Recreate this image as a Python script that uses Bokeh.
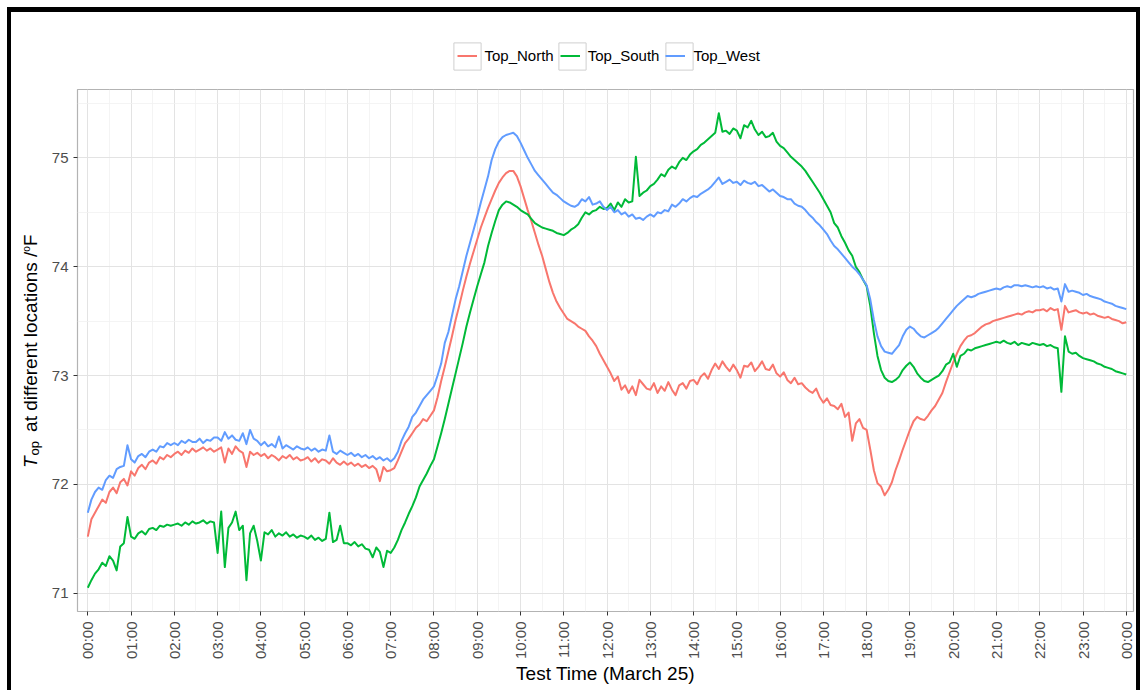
import numpy as np
from bokeh.plotting import figure
from bokeh.layouts import row, column
from bokeh.models import FixedTicker, Legend, LegendItem, Range1d, Div
from bokeh.embed import file_html
from bokeh.resources import INLINE

# Operative temperature (°F) logged every 5 minutes on March 25, one row per hour
top_north = [
    71.52, 71.68, 71.74, 71.80, 71.86, 71.83, 71.93, 71.97, 71.92, 72.02, 72.05, 71.99,
    72.12, 72.08, 72.15, 72.18, 72.14, 72.20, 72.22, 72.19, 72.25, 72.23, 72.27, 72.25,
    72.28, 72.30, 72.27, 72.31, 72.29, 72.33, 72.30, 72.32, 72.34, 72.31, 72.33, 72.30,
    72.32, 72.34, 72.20, 72.33, 72.28, 72.35, 72.31, 72.29, 72.16, 72.30, 72.27, 72.29,
    72.26, 72.28, 72.24, 72.27, 72.25, 72.22, 72.26, 72.24, 72.27, 72.23, 72.25, 72.22,
    72.23, 72.25, 72.21, 72.24, 72.20, 72.23, 72.22, 72.19, 72.24, 72.20, 72.18, 72.21,
    72.18, 72.20, 72.17, 72.19, 72.16, 72.18, 72.15, 72.17, 72.14, 72.03, 72.16, 72.12,
    72.13, 72.15, 72.22, 72.30, 72.38, 72.42, 72.47, 72.52, 72.55, 72.60, 72.58, 72.63,
    72.68, 72.80, 72.95, 73.08, 73.22, 73.36, 73.51, 73.64, 73.78, 73.91, 74.03, 74.14,
    74.25, 74.36, 74.45, 74.54, 74.62, 74.70, 74.77, 74.82, 74.86, 74.88, 74.88, 74.83,
    74.74, 74.63, 74.52, 74.42, 74.31, 74.20, 74.10, 73.98, 73.86, 73.76, 73.68, 73.62,
    73.57, 73.52, 73.50, 73.48, 73.45, 73.43, 73.41, 73.36, 73.32, 73.27, 73.20, 73.14,
    73.08, 73.02, 72.95, 72.99, 72.87, 72.91, 72.84, 72.90, 72.82, 72.96, 72.92, 72.88,
    72.87, 72.93, 72.84, 72.90, 72.86, 72.94, 72.87, 72.82, 72.91, 72.93, 72.88, 72.95,
    72.96, 72.92, 72.99, 73.02, 72.97, 73.05, 73.11, 73.06, 73.13, 73.08, 73.04, 73.10,
    73.05, 72.98, 73.09, 73.08, 73.12, 73.04, 73.08, 73.13, 73.06, 73.05, 73.10, 73.02,
    72.99, 73.03, 72.96, 72.93, 72.98, 72.92, 72.93, 72.89, 72.86, 72.84, 72.88, 72.80,
    72.75, 72.79, 72.73, 72.72, 72.69, 72.74, 72.62, 72.66, 72.40, 72.56, 72.60, 72.52,
    72.50, 72.32, 72.13, 72.01, 71.98, 71.90, 71.95, 72.02, 72.13, 72.22, 72.32, 72.41,
    72.50, 72.58, 72.62, 72.60, 72.59, 72.63, 72.68, 72.72, 72.78, 72.84, 72.94, 73.03,
    73.12, 73.20, 73.27, 73.32, 73.36, 73.37, 73.39, 73.42, 73.45, 73.47, 73.48, 73.50,
    73.51, 73.52, 73.53, 73.54, 73.55, 73.56, 73.57, 73.56, 73.58, 73.59, 73.58, 73.60,
    73.60, 73.61, 73.59, 73.62, 73.60, 73.61, 73.42, 73.64, 73.58, 73.59, 73.60, 73.58,
    73.57, 73.58, 73.56, 73.57, 73.55, 73.54, 73.53, 73.54, 73.52, 73.51, 73.50, 73.48,
    73.49,
]

top_south = [
    71.05, 71.12, 71.18, 71.22, 71.28, 71.25, 71.34, 71.30, 71.21, 71.43, 71.46, 71.70,
    71.52, 71.50, 71.55, 71.57, 71.54, 71.59, 71.60, 71.58, 71.62, 71.61, 71.63, 71.62,
    71.63, 71.64, 71.62, 71.65, 71.63, 71.66, 71.64, 71.65, 71.67, 71.64, 71.66, 71.65,
    71.37, 71.75, 71.24, 71.60, 71.65, 71.75, 71.58, 71.62, 71.12, 71.55, 71.62, 71.48,
    71.30, 71.56, 71.54, 71.58, 71.52, 71.55, 71.53, 71.56, 71.52, 71.54, 71.51, 71.53,
    71.52, 71.50, 71.53, 71.49, 71.51, 71.48, 71.50, 71.74, 71.47, 71.49, 71.62, 71.46,
    71.46, 71.44, 71.47, 71.43, 71.45, 71.41, 71.40, 71.33, 71.42, 71.38, 71.24, 71.39,
    71.37, 71.42, 71.49, 71.58, 71.65, 71.73, 71.80, 71.88, 71.98, 72.04, 72.10, 72.17,
    72.23, 72.35, 72.47, 72.60, 72.74, 72.88, 73.02, 73.16, 73.30, 73.45, 73.58, 73.70,
    73.82, 73.93, 74.04, 74.19, 74.31, 74.42, 74.52, 74.57, 74.60, 74.59, 74.57, 74.55,
    74.52, 74.50, 74.48, 74.44, 74.40, 74.38, 74.36, 74.35, 74.34, 74.33, 74.31, 74.30,
    74.29, 74.31, 74.34, 74.36, 74.39, 74.45, 74.50, 74.48, 74.51, 74.52, 74.55, 74.53,
    74.54, 74.58, 74.52, 74.59, 74.55, 74.62, 74.59, 74.60, 75.01, 74.65, 74.68, 74.70,
    74.74, 74.76, 74.80, 74.85, 74.83, 74.89, 74.92, 74.90, 74.96, 75.00, 74.98, 75.03,
    75.06, 75.08, 75.12, 75.14, 75.17, 75.20, 75.23, 75.41, 75.24, 75.25, 75.22, 75.27,
    75.25, 75.18, 75.30, 75.28, 75.34, 75.26, 75.21, 75.24, 75.19, 75.20, 75.23, 75.15,
    75.11, 75.09, 75.05, 75.01, 74.98, 74.95, 74.92, 74.88, 74.83, 74.78, 74.73, 74.68,
    74.62, 74.56, 74.50, 74.40, 74.36, 74.28, 74.22, 74.15, 74.10, 74.00, 73.95, 73.88,
    73.82, 73.64, 73.39, 73.18, 73.05, 72.98, 72.95, 72.94, 72.96, 72.99, 73.05, 73.09,
    73.12, 73.08, 73.02, 72.98, 72.95, 72.94, 72.96, 72.98, 73.00, 73.04, 73.10, 73.12,
    73.20, 73.08, 73.18, 73.20, 73.24, 73.23, 73.25, 73.26, 73.27, 73.28, 73.29, 73.30,
    73.31, 73.30, 73.32, 73.30, 73.29, 73.31, 73.28, 73.30, 73.29, 73.28, 73.30, 73.29,
    73.28, 73.29, 73.27, 73.28, 73.26, 73.25, 72.85, 73.36, 73.22, 73.20, 73.21, 73.18,
    73.16, 73.15, 73.14, 73.13, 73.11, 73.10, 73.08, 73.07, 73.06, 73.04, 73.03, 73.02,
    73.01,
]

top_west = [
    71.74, 71.86, 71.93, 71.97, 71.95, 72.04, 72.08, 72.06, 72.14, 72.16, 72.17, 72.36,
    72.23, 72.20, 72.26, 72.28, 72.25, 72.30, 72.32, 72.30, 72.35, 72.34, 72.38, 72.36,
    72.38, 72.36, 72.40, 72.38, 72.41, 72.39, 72.39, 72.42, 72.38, 72.41, 72.40, 72.43,
    72.43, 72.40, 72.48, 72.42, 72.45, 72.41, 72.40, 72.47, 72.37, 72.50, 72.42, 72.40,
    72.36, 72.39, 72.35, 72.37, 72.34, 72.44, 72.33, 72.36, 72.34, 72.32, 72.35, 72.33,
    72.32, 72.34, 72.31, 72.33, 72.30, 72.32, 72.31, 72.45, 72.30, 72.28, 72.31, 72.29,
    72.27, 72.29, 72.26, 72.28, 72.25, 72.27, 72.24, 72.26, 72.23, 72.25, 72.22, 72.24,
    72.21, 72.24, 72.30, 72.40, 72.47, 72.53, 72.62, 72.66, 72.72, 72.78, 72.82, 72.86,
    72.90, 73.00, 73.11, 73.30, 73.40, 73.55, 73.70, 73.82, 73.96, 74.10, 74.22, 74.34,
    74.46, 74.59, 74.71, 74.83, 74.98, 75.08, 75.15, 75.19, 75.21, 75.22, 75.23, 75.20,
    75.14, 75.07, 75.00, 74.94, 74.88, 74.84, 74.80, 74.76, 74.72, 74.68, 74.66, 74.63,
    74.60, 74.58, 74.56, 74.55, 74.57, 74.62, 74.60, 74.64, 74.57, 74.58, 74.60, 74.55,
    74.52, 74.55, 74.50, 74.52, 74.48, 74.50, 74.46, 74.48, 74.44, 74.45, 74.43, 74.46,
    74.48, 74.46, 74.50, 74.49, 74.52, 74.51, 74.57, 74.55, 74.58, 74.62, 74.60, 74.63,
    74.65, 74.64, 74.67, 74.69, 74.71, 74.74, 74.78, 74.82, 74.76, 74.78, 74.80, 74.77,
    74.78, 74.75, 74.79, 74.77, 74.76, 74.78, 74.74, 74.75, 74.72, 74.69, 74.71, 74.68,
    74.65, 74.64, 74.62, 74.62, 74.58, 74.56, 74.55, 74.52, 74.48, 74.45, 74.41, 74.38,
    74.34, 74.30, 74.24, 74.19, 74.16, 74.12, 74.08, 74.04, 74.00, 73.97, 73.93, 73.88,
    73.83, 73.70, 73.51, 73.36, 73.27, 73.22, 73.21, 73.20, 73.24, 73.28, 73.36, 73.42,
    73.45, 73.43, 73.39, 73.36, 73.35, 73.37, 73.39, 73.41, 73.44, 73.48, 73.52, 73.56,
    73.60, 73.64, 73.67, 73.70, 73.73, 73.72, 73.73, 73.75, 73.76, 73.77, 73.78, 73.79,
    73.80, 73.79, 73.81, 73.82, 73.81, 73.83, 73.83, 73.82, 73.83, 73.82, 73.81, 73.82,
    73.81, 73.82, 73.80, 73.81, 73.79, 73.80, 73.68, 73.84, 73.77, 73.78, 73.77, 73.76,
    73.74, 73.75, 73.73, 73.72, 73.71, 73.70, 73.68, 73.67, 73.66, 73.64, 73.63, 73.62,
    73.61,
]

series_names = ["Top_North", "Top_South", "Top_West"]
series_colors = ["#F8766D", "#00BA38", "#619CFF"]

STEP_MIN = 5
minutes = list(range(0, 24 * 60 + 1, STEP_MIN))
hours = [m / 60 for m in minutes]

x_tick_hours = list(range(25))
x_tick_labels = [f"{h % 24:02d}:00" for h in x_tick_hours]
y_ticks = [71, 72, 73, 74, 75]

FONT = "Liberation Sans"
TOTAL_W = 1125
LEGEND_H = 75
MAIN_H = 603
TITLE_W = 36

# ---- main panel ----
p = figure(
    width=TOTAL_W - TITLE_W, height=MAIN_H, title=None,
    output_backend="svg", toolbar_location=None,
    x_range=Range1d(-0.238, 24.167), y_range=Range1d(70.832, 75.628),
    min_border_left=30, min_border_right=3, min_border_top=2, min_border_bottom=79,
    background_fill_color="white", border_fill_color="white",
)
p.outline_line_color = "#b3b3b3"
p.outline_line_width = 1.2

p.xaxis.ticker = FixedTicker(ticks=x_tick_hours, minor_ticks=[h + 0.5 for h in range(24)])
p.xaxis.major_label_overrides = {h: lab for h, lab in zip(x_tick_hours, x_tick_labels)}
p.xaxis.major_label_orientation = np.pi / 2
p.yaxis.ticker = FixedTicker(ticks=y_ticks, minor_ticks=[t - 0.5 for t in y_ticks] + [75.5])

for ax in (p.xaxis[0], p.yaxis[0]):
    ax.axis_line_color = None
    ax.major_tick_out = 4
    ax.major_tick_in = 0
    ax.major_tick_line_color = "#333333"
    ax.minor_tick_line_color = None
    ax.major_label_text_font = FONT
    ax.major_label_text_font_size = "15px"
    ax.major_label_text_color = "#4d4d4d"

p.xaxis.major_label_standoff = 6
p.yaxis.major_label_standoff = 5
p.xaxis.axis_label = "Test Time (March 25)"
p.xaxis.axis_label_text_font = FONT
p.xaxis.axis_label_text_font_size = "19px"
p.xaxis.axis_label_text_font_style = "normal"
p.xaxis.axis_label_text_color = "black"
p.xaxis.axis_label_standoff = 1
p.yaxis.axis_label = None

for g in (p.xgrid[0], p.ygrid[0]):
    g.grid_line_color = "#e3e3e3"
    g.grid_line_width = 1
    g.minor_grid_line_color = "#f1f1f1"
    g.minor_grid_line_width = 0.8

for vals, col in zip([top_north, top_south, top_west], series_colors):
    p.line(hours, vals, line_color=col, line_width=2, line_join="round")

# ---- legend strip above the panel ----
lg = figure(
    width=TOTAL_W, height=LEGEND_H, title=None,
    output_backend="svg", toolbar_location=None,
    x_axis_type=None, y_axis_type=None, min_border=0,
    x_range=Range1d(0, 1), y_range=Range1d(0, 1),
    background_fill_color="white", border_fill_color="white",
)
lg.outline_line_color = None

key_box = lg.rect(x=[np.nan], y=[np.nan], width=1, height=1,
                  fill_color="white", line_color="#cfcfcf", line_width=1)
key_lines = [lg.line(x=[np.nan], y=[np.nan], line_color=c, line_width=2) for c in series_colors]

for bx in [438.5, 543.5, 651.0]:
    lg.add_layout(Legend(
        items=[LegendItem(label="", renderers=[key_box])],
        location=(bx, 14.5), orientation="horizontal",
        glyph_width=34, glyph_height=34, label_width=0, label_standoff=0,
        padding=0, margin=0, border_line_color=None, background_fill_alpha=0,
    ))

lg.add_layout(Legend(
    items=[LegendItem(label=n, renderers=[r]) for n, r in zip(series_names, key_lines)],
    location=(445.5, 18), orientation="horizontal",
    glyph_width=20, glyph_height=27, label_standoff=8, spacing=6,
    padding=0, margin=0, border_line_color=None, background_fill_alpha=0,
    label_text_font=FONT, label_text_font_size="15px", label_text_color="black",
))

# ---- y-axis title: T_op at different locations /°F ----
ytitle_html = (
    f'<div style="position:relative;width:{TITLE_W}px;height:{MAIN_H}px;">'
    '<div style="position:absolute;left:10.4px;top:380.5px;transform:rotate(-90deg);'
    "transform-origin:0 0;white-space:nowrap;font-family:'Liberation Sans';"
    'font-size:19px;line-height:19px;color:black;">'
    '<i>T</i>'
    '<span style="font-size:13px;position:relative;top:2px;margin-left:1px;">op</span>'
    '<span style="margin-left:9px;">at different locations /</span>'
    '<span style="font-size:10px;position:relative;top:-7px;">o</span>F'
    '</div></div>'
)
ytitle = Div(text=ytitle_html, width=TITLE_W, height=MAIN_H, margin=0)

page = column(lg, row(ytitle, p, spacing=0), spacing=0)
page.styles = {
    "margin-left": "7px", "margin-top": "7px",
    "border-left": "4px solid black", "border-top": "5px solid black",
    "border-right": "4px solid black",
}

open("out.html", "w").write(file_html(page, INLINE))
